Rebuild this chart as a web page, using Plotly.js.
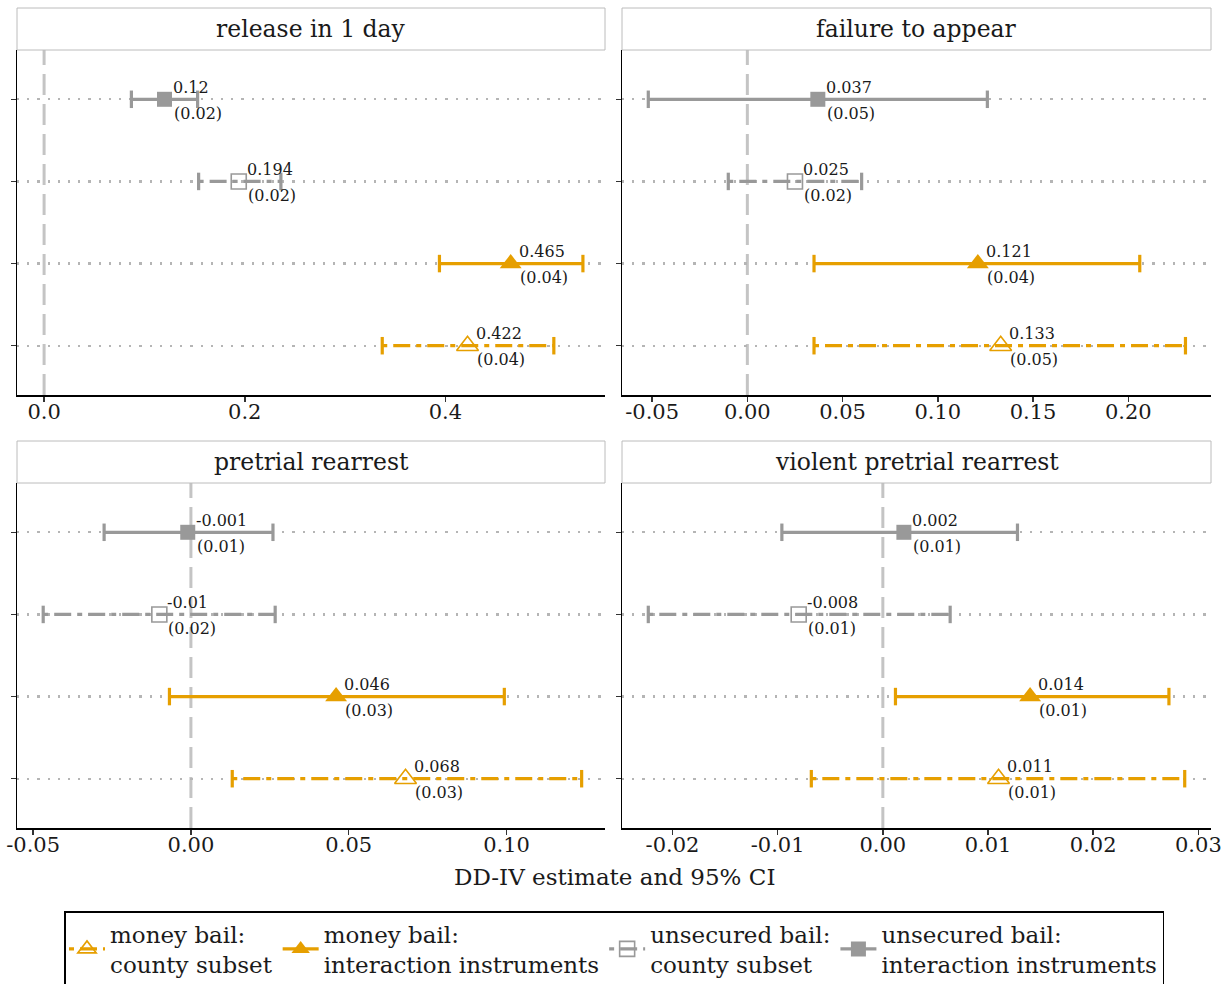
<!DOCTYPE html>
<html>
<head>
<meta charset="utf-8">
<script src="https://cdn.plot.ly/plotly-3.0.1.min.js"></script>
<style>
  html, body { margin: 0; padding: 0; background: #ffffff; }
  #chart { width: 1231px; height: 984px; }
</style>
</head>
<body>
<div id="chart"></div>
<script>
// Outcomes, one facet each (top-left, top-right, bottom-left, bottom-right)
const outcomes = ["release in 1 day", "failure to appear", "pretrial rearrest", "violent pretrial rearrest"];

// Specifications, listed top row to bottom row within each facet
const specs = [
  "unsecured bail: interaction instruments",
  "unsecured bail: county subset",
  "money bail: interaction instruments",
  "money bail: county subset"
];

// Point estimates per outcome (same order as specs)
const estRelease  = [0.12, 0.194, 0.465, 0.422];
const estFTA      = [0.037, 0.025, 0.121, 0.133];
const estRearrest = [-0.001, -0.01, 0.046, 0.068];
const estViolent  = [0.002, -0.008, 0.014, 0.011];

// Standard errors
const seRelease  = [0.02, 0.02, 0.04, 0.04];
const seFTA      = [0.05, 0.02, 0.04, 0.05];
const seRearrest = [0.01, 0.02, 0.03, 0.03];
const seViolent  = [0.01, 0.01, 0.01, 0.01];

// 95% confidence interval bounds
const loRelease  = [0.087, 0.154, 0.394, 0.337];
const hiRelease  = [0.153, 0.236, 0.537, 0.508];
const loFTA      = [-0.052, -0.010, 0.035, 0.035];
const hiFTA      = [0.126, 0.060, 0.206, 0.230];
const loRearrest = [-0.0275, -0.0468, -0.0068, 0.0131];
const hiRearrest = [0.0260, 0.0267, 0.0993, 0.1238];
const loViolent  = [-0.0096, -0.0223, 0.0012, -0.0068];
const hiViolent  = [0.0128, 0.0064, 0.0272, 0.0287];

// Axis tick values per facet
const ticksRelease  = [0, 0.2, 0.4];
const ticksFTA      = [-0.05, 0, 0.05, 0.10, 0.15, 0.20];
const ticksRearrest = [-0.05, 0, 0.05, 0.10];
const ticksViolent  = [-0.02, -0.01, 0, 0.01, 0.02, 0.03];

const estimates = [estRelease, estFTA, estRearrest, estViolent];
const stdErrs   = [seRelease, seFTA, seRearrest, seViolent];
const lows      = [loRelease, loFTA, loRearrest, loViolent];
const highs     = [hiRelease, hiFTA, hiRearrest, hiViolent];
const tickSets  = [ticksRelease, ticksFTA, ticksRearrest, ticksViolent];
const tickDigits = [1, 2, 2, 2];
const xRanges = [[-0.027, 0.559], [-0.0658, 0.2434], [-0.0551, 0.1312], [-0.0248, 0.0312]];

// ---- styling ----
const FONT = "DejaVu Serif, serif";
const INK = "#1a1a1a";
const ORANGE = "#E69F00";
const GREY = "#999999";
const TWODASH = "5px,6px,17px,6px";
const specStyle = [
  { color: GREY,   symbol: "square",           size: 15, dash: "solid" },
  { color: GREY,   symbol: "square-open",      size: 15, dash: TWODASH },
  { color: ORANGE, symbol: "triangle-up",      size: 19, dash: "solid" },
  { color: ORANGE, symbol: "triangle-up-open", size: 19, dash: TWODASH }
];

const W = 1231, H = 984;
const colPx = [[17, 605], [622, 1211]];
const rowPx = [[50, 395], [483, 828]];
const STRIP_H = 42;

function legendName(s) {
  const i = s.indexOf(": ");
  return s.slice(0, i + 1) + "<br>" + s.slice(i + 2);
}
function fmtTick(v, d) {
  const s = Math.abs(v).toFixed(d);
  return (v < 0 ? "-" : "") + s;
}

const traces = [];
const annotations = [];
const shapes = [];
const layout = {
  width: W, height: H,
  margin: { l: 0, r: 0, t: 0, b: 0, autoexpand: false },
  paper_bgcolor: "#ffffff",
  plot_bgcolor: "#ffffff",
  font: { family: FONT, color: INK },
  showlegend: true,
  legend: {
    orientation: "h",
    x: 614 / W, xanchor: "center",
    y: 1 - 911 / H, yanchor: "top",
    font: { family: FONT, size: 23, color: INK },
    bordercolor: "#000000", borderwidth: 1.5,
    bgcolor: "#ffffff",
    itemwidth: 36,
    valign: "middle"
  }
};

outcomes.forEach((title, p) => {
  const col = p % 2, row = Math.floor(p / 2);
  const sfx = p === 0 ? "" : String(p + 1);
  const xa = "x" + sfx, ya = "y" + sfx;
  const plotH = rowPx[row][1] - rowPx[row][0];

  layout["xaxis" + sfx] = {
    domain: [colPx[col][0] / W, colPx[col][1] / W],
    anchor: ya,
    range: xRanges[p],
    showgrid: false, zeroline: false,
    showline: true, linecolor: "#000000", linewidth: 1.5,
    ticks: "outside", ticklen: 5, tickwidth: 1.5, tickcolor: "#333333",
    tickmode: "array",
    tickvals: tickSets[p],
    ticktext: tickSets[p].map(v => fmtTick(v, tickDigits[p])),
    tickfont: { family: FONT, size: 21, color: INK },
    ticklabelstandoff: -8,
    fixedrange: true
  };
  layout["yaxis" + sfx] = {
    domain: [1 - rowPx[row][1] / H, 1 - rowPx[row][0] / H],
    anchor: xa,
    type: "category",
    categoryorder: "array",
    categoryarray: specs,
    range: [3.6, -0.6],
    showgrid: true, gridcolor: "#b5b5b5", gridwidth: 2.2, griddash: "2.2px,8px",
    zeroline: false,
    showline: true, linecolor: "#000000", linewidth: 1.5,
    ticks: "outside", ticklen: 5, tickwidth: 1.5, tickcolor: "#333333",
    showticklabels: false,
    fixedrange: true
  };

  // facet strip
  shapes.push({
    type: "rect", xref: xa + " domain", yref: ya + " domain",
    x0: 0, x1: 1, y0: 1, y1: 1 + STRIP_H / plotH,
    fillcolor: "#ffffff", line: { color: "#bcbcbc", width: 1 }, layer: "above"
  });
  annotations.push({
    xref: xa + " domain", yref: ya + " domain",
    x: 0.5, y: 1 + STRIP_H / 2 / plotH, xanchor: "center", yanchor: "middle",
    text: title, showarrow: false,
    font: { family: FONT, size: 23.5, color: INK }
  });

  // reference line at zero
  shapes.push({
    type: "line", xref: xa, yref: ya + " domain",
    x0: 0, x1: 0, y0: 0, y1: 1,
    line: { color: "#c4c4c4", width: 3, dash: "21px,9px" }, layer: "below"
  });

  // confidence intervals with end caps
  specs.forEach((s, k) => {
    const st = specStyle[k];
    traces.push({
      type: "scatter", mode: "lines+markers",
      x: [lows[p][k], highs[p][k]], y: [s, s],
      xaxis: xa, yaxis: ya,
      line: { color: st.color, width: 3.2, dash: st.dash },
      marker: { symbol: "line-ns", size: 12.5, color: st.color, line: { color: st.color, width: 3.2 } },
      showlegend: false, hoverinfo: "skip"
    });
  });

  // point estimates with their value and standard-error labels
  specs.forEach((s, k) => {
    const st = specStyle[k];
    const open = st.symbol.endsWith("-open");
    traces.push({
      type: "scatter", mode: "lines+markers",
      x: [estimates[p][k]], y: [s],
      xaxis: xa, yaxis: ya,
      name: legendName(s),
      legendgroup: s,
      legendrank: 100 - k,
      showlegend: p === 0,
      line: { color: st.color, width: 3.2, dash: st.dash },
      marker: {
        symbol: st.symbol, size: st.size, color: st.color,
        line: { color: st.color, width: open ? 1.6 : 0 }
      },
      hoverinfo: "x"
    });

    annotations.push({
      xref: xa, yref: ya, x: estimates[p][k], y: s,
      xanchor: "left", yanchor: "middle", xshift: 6, yshift: 12,
      text: String(estimates[p][k]), showarrow: false,
      font: { family: FONT, size: 16, color: INK }
    });
    annotations.push({
      xref: xa, yref: ya, x: estimates[p][k], y: s,
      xanchor: "left", yanchor: "middle", xshift: 7, yshift: -14,
      text: "(" + stdErrs[p][k].toFixed(2) + ")", showarrow: false,
      font: { family: FONT, size: 16, color: INK }
    });
  });
});

// shared x-axis title
annotations.push({
  xref: "paper", yref: "paper", x: 614 / W, y: 1 - 877 / H,
  xanchor: "center", yanchor: "middle",
  text: "DD-IV estimate and 95% CI", showarrow: false,
  font: { family: FONT, size: 23, color: INK }
});

layout.shapes = shapes;
layout.annotations = annotations;

Plotly.newPlot("chart", traces, layout, { displayModeBar: false, staticPlot: true });
</script>
</body>
</html>
